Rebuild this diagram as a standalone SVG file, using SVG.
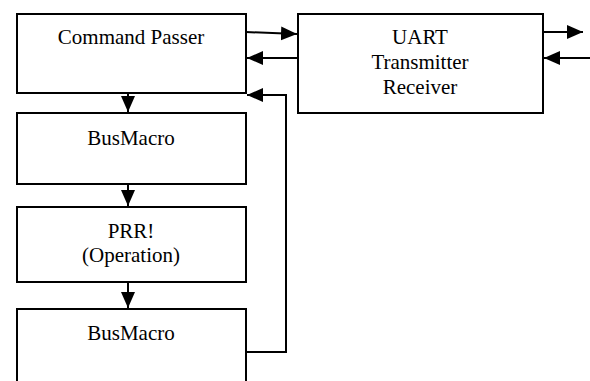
<svg xmlns="http://www.w3.org/2000/svg" width="590" height="381" viewBox="0 0 590 381">
<defs>
<marker id="ah" markerUnits="userSpaceOnUse" markerWidth="17" markerHeight="15" refX="16" refY="7" orient="auto">
<path d="M0,0 L16,7 L0,14 z" fill="#000"/>
</marker>
<style>
.box{fill:#fff;stroke:#000;stroke-width:2}
.t{font-size:21px;fill:#000;text-anchor:middle}
.c{fill:none;stroke:#000;stroke-width:2;marker-end:url(#ah)}
</style>
</defs>
<rect width="590" height="381" fill="#fff"/>
<g font-family="'Liberation Serif', 'Times New Roman', 'DejaVu Serif', serif">
<g id="command-passer">
<rect class="box" x="17" y="14" width="229" height="79"/>
<text class="t" x="131" y="44">Command Passer</text>
</g>
<g id="uart">
<rect class="box" x="298" y="14" width="245" height="99"/>
<text class="t" x="420" y="44">UART</text>
<text class="t" x="420" y="69">Transmitter</text>
<text class="t" x="420" y="94">Receiver</text>
</g>
<g id="busmacro1">
<rect class="box" x="17" y="113" width="229" height="71"/>
<text class="t" x="131" y="145">BusMacro</text>
</g>
<g id="prr">
<rect class="box" x="17" y="207" width="229" height="75"/>
<text class="t" x="131" y="238">PRR!</text>
<text class="t" x="131" y="262">(Operation)</text>
</g>
<g id="busmacro2">
<path class="box" d="M17,383 L17,309 L246,309 L246,383"/>
<text class="t" x="131" y="340">BusMacro</text>
</g>
</g>
<g id="connectors">
<path class="c" d="M246,32 L297,34"/>
<path class="c" d="M298,58 L247,58"/>
<path class="c" d="M543,32 L583,32"/>
<path class="c" d="M590,58 L544,58"/>
<path class="c" d="M128,93 L128,112"/>
<path class="c" d="M128,184 L128,206"/>
<path class="c" d="M128,282 L128,308"/>
<path class="c" d="M246,352 L286,352 L286,95 L247,95"/>
</g>
</svg>
